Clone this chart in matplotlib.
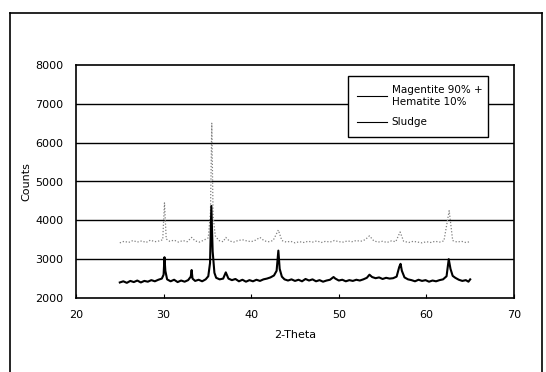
import matplotlib
matplotlib.use("Agg")
import matplotlib.pyplot as plt
from matplotlib.lines import Line2D

# grey reference pattern (Magnetite 90% + Hematite 10%)
ref_x = [25.0, 25.5, 26.0, 26.5, 27.0, 27.5, 28.0, 28.5, 29.0, 29.5, 29.9, 30.1, 30.3,
         30.7, 31.2, 31.7, 32.2, 32.7, 33.2, 33.6, 34.1, 34.6, 35.1, 35.35, 35.5, 35.65,
         35.9, 36.3, 36.8, 37.1, 37.5, 38.0, 38.5, 39.0, 39.5, 40.0, 40.5, 41.0, 41.5,
         42.0, 42.5, 43.1, 43.5, 44.0, 44.5, 45.0, 45.5, 46.0, 46.5, 47.0, 47.5, 48.0,
         48.5, 49.0, 49.5, 50.0, 50.5, 51.0, 51.5, 52.0, 52.5, 53.0, 53.5, 54.0, 54.5,
         55.0, 55.5, 56.0, 56.5, 57.0, 57.4, 58.0, 58.5, 59.0, 59.5, 60.0, 60.5, 61.0,
         61.5, 62.0, 62.6, 63.0, 63.5, 64.0, 64.5, 65.0]
ref_y = [3420, 3460, 3430, 3480, 3440, 3470, 3430, 3490, 3450, 3470, 3500, 4450, 3520,
         3460, 3490, 3440, 3480, 3450, 3560, 3470, 3440, 3490, 3550, 4200, 6500, 4100,
         3600, 3480, 3450, 3560, 3470, 3440, 3480, 3500, 3470, 3450, 3490, 3560, 3470,
         3450, 3480, 3750, 3480, 3440, 3460, 3420, 3450, 3430, 3460, 3440, 3470, 3430,
         3460, 3440, 3480, 3450, 3440, 3470, 3450, 3480, 3460, 3500, 3600, 3470, 3440,
         3460, 3430, 3470, 3450, 3700, 3460, 3430, 3460, 3440, 3420, 3450, 3430, 3460,
         3440, 3470, 4250, 3480, 3440, 3460, 3430, 3450]

# black sludge pattern
sl_x = [25.0, 25.4, 25.8, 26.2, 26.6, 27.0, 27.4, 27.8, 28.2, 28.6, 29.0, 29.4, 29.8,
        30.0, 30.1, 30.2, 30.4, 30.8, 31.2, 31.6, 32.0, 32.4, 32.8, 33.1, 33.2, 33.3,
        33.6, 34.0, 34.4, 34.8, 35.1, 35.3, 35.45, 35.6, 35.8, 36.0, 36.4, 36.8, 37.1,
        37.4, 37.8, 38.2, 38.6, 39.0, 39.4, 39.8, 40.2, 40.6, 41.0, 41.4, 41.8, 42.2,
        42.6, 42.9, 43.1, 43.25, 43.5, 43.8, 44.2, 44.6, 45.0, 45.4, 45.8, 46.2, 46.6,
        47.0, 47.4, 47.8, 48.2, 48.6, 49.0, 49.4, 49.6, 50.0, 50.4, 50.8, 51.2, 51.6,
        52.0, 52.4, 52.8, 53.2, 53.5, 53.8, 54.2, 54.6, 55.0, 55.4, 55.8, 56.2, 56.6,
        56.9, 57.05, 57.2, 57.5, 57.9, 58.3, 58.7, 59.1, 59.5, 59.9, 60.3, 60.7, 61.1,
        61.5, 61.9, 62.3, 62.55, 62.75, 63.0, 63.3, 63.7, 64.1, 64.5, 64.8, 65.0]
sl_y = [2400, 2430, 2390, 2440, 2410, 2450, 2400, 2440, 2420, 2460, 2430, 2470, 2500,
        2600, 3050, 2700, 2480, 2430, 2470, 2410, 2450, 2420, 2460, 2550, 2720, 2500,
        2440, 2470, 2430, 2480, 2560, 2900, 4370, 3200, 2650, 2520, 2480, 2500, 2660,
        2500, 2460, 2490, 2430, 2470, 2420, 2460, 2430, 2470, 2440, 2480, 2500, 2530,
        2580, 2700, 3220, 2750, 2550, 2480, 2450, 2480, 2440, 2470, 2430, 2490, 2450,
        2480, 2430, 2460, 2420, 2450, 2470, 2540, 2500, 2450, 2470, 2430, 2460, 2440,
        2470, 2450, 2480, 2520, 2600, 2540, 2510, 2530, 2490, 2520, 2500, 2510, 2550,
        2800, 2880, 2700, 2530, 2480, 2460, 2430, 2470, 2440, 2460, 2420, 2450, 2430,
        2460, 2480, 2560, 3000, 2750, 2570, 2520, 2470, 2440, 2460, 2420, 2480]

labels = ["Magentite 90% +\nHematite 10%", "Sludge"]
x_ticks = [20, 30, 40, 50, 60, 70]
y_ticks = [2000, 3000, 4000, 5000, 6000, 7000, 8000]

plt.rcParams['font.family'] = ['DejaVu Sans']
fig = plt.figure(figsize=(5.46, 3.72), dpi=100)
ax = fig.add_axes([76/546, 1 - 298/372, 438/546, 233/372])

for yv in y_ticks[1:-1]:
    ax.axhline(yv, color='black', lw=1.0, zorder=1)

ax.plot(ref_x, ref_y, color='0.5', lw=0.9, ls=(0, (1, 1.5)), zorder=2)
ax.plot(sl_x, sl_y, color='black', lw=1.5, zorder=3)

ax.set_xlim(20, 70)
ax.set_ylim(2000, 8000)
ax.set_xticks(x_ticks)
ax.set_yticks(y_ticks)
ax.tick_params(axis='x', direction='in', length=3, pad=9, labelsize=8)
ax.tick_params(axis='y', length=0, pad=9, labelsize=8)
for s in ax.spines.values():
    s.set_linewidth(1.2)
ax.set_xlabel("2-Theta", fontsize=8, labelpad=7)
ax.set_ylabel("Counts", fontsize=8, labelpad=3)

handles = [Line2D([], [], color='black', lw=0.8), Line2D([], [], color='black', lw=0.8)]
leg = ax.legend(handles, labels, loc='upper left', mode='expand',
                bbox_to_anchor=(0.621, 0.670, 0.320, 0.283),
                borderaxespad=0, fontsize=7.5, frameon=True, fancybox=False,
                handlelength=2.8, handletextpad=0.5, borderpad=0.9, labelspacing=1.0)
leg.get_frame().set_edgecolor('black')
leg.get_frame().set_linewidth(1.0)
leg.get_frame().set_alpha(1)

# outer chart-area frame (bottom runs off the picture)
fl, fr, ft = 10/546, 542/546, 1 - 13/372
fig.add_artist(Line2D([fl, fl], [0, ft], color='black', lw=1.2))
fig.add_artist(Line2D([fl, fr], [ft, ft], color='black', lw=1.2))
fig.add_artist(Line2D([fr, fr], [0, ft], color='black', lw=1.2))

fig.savefig("out.png", dpi=100)
